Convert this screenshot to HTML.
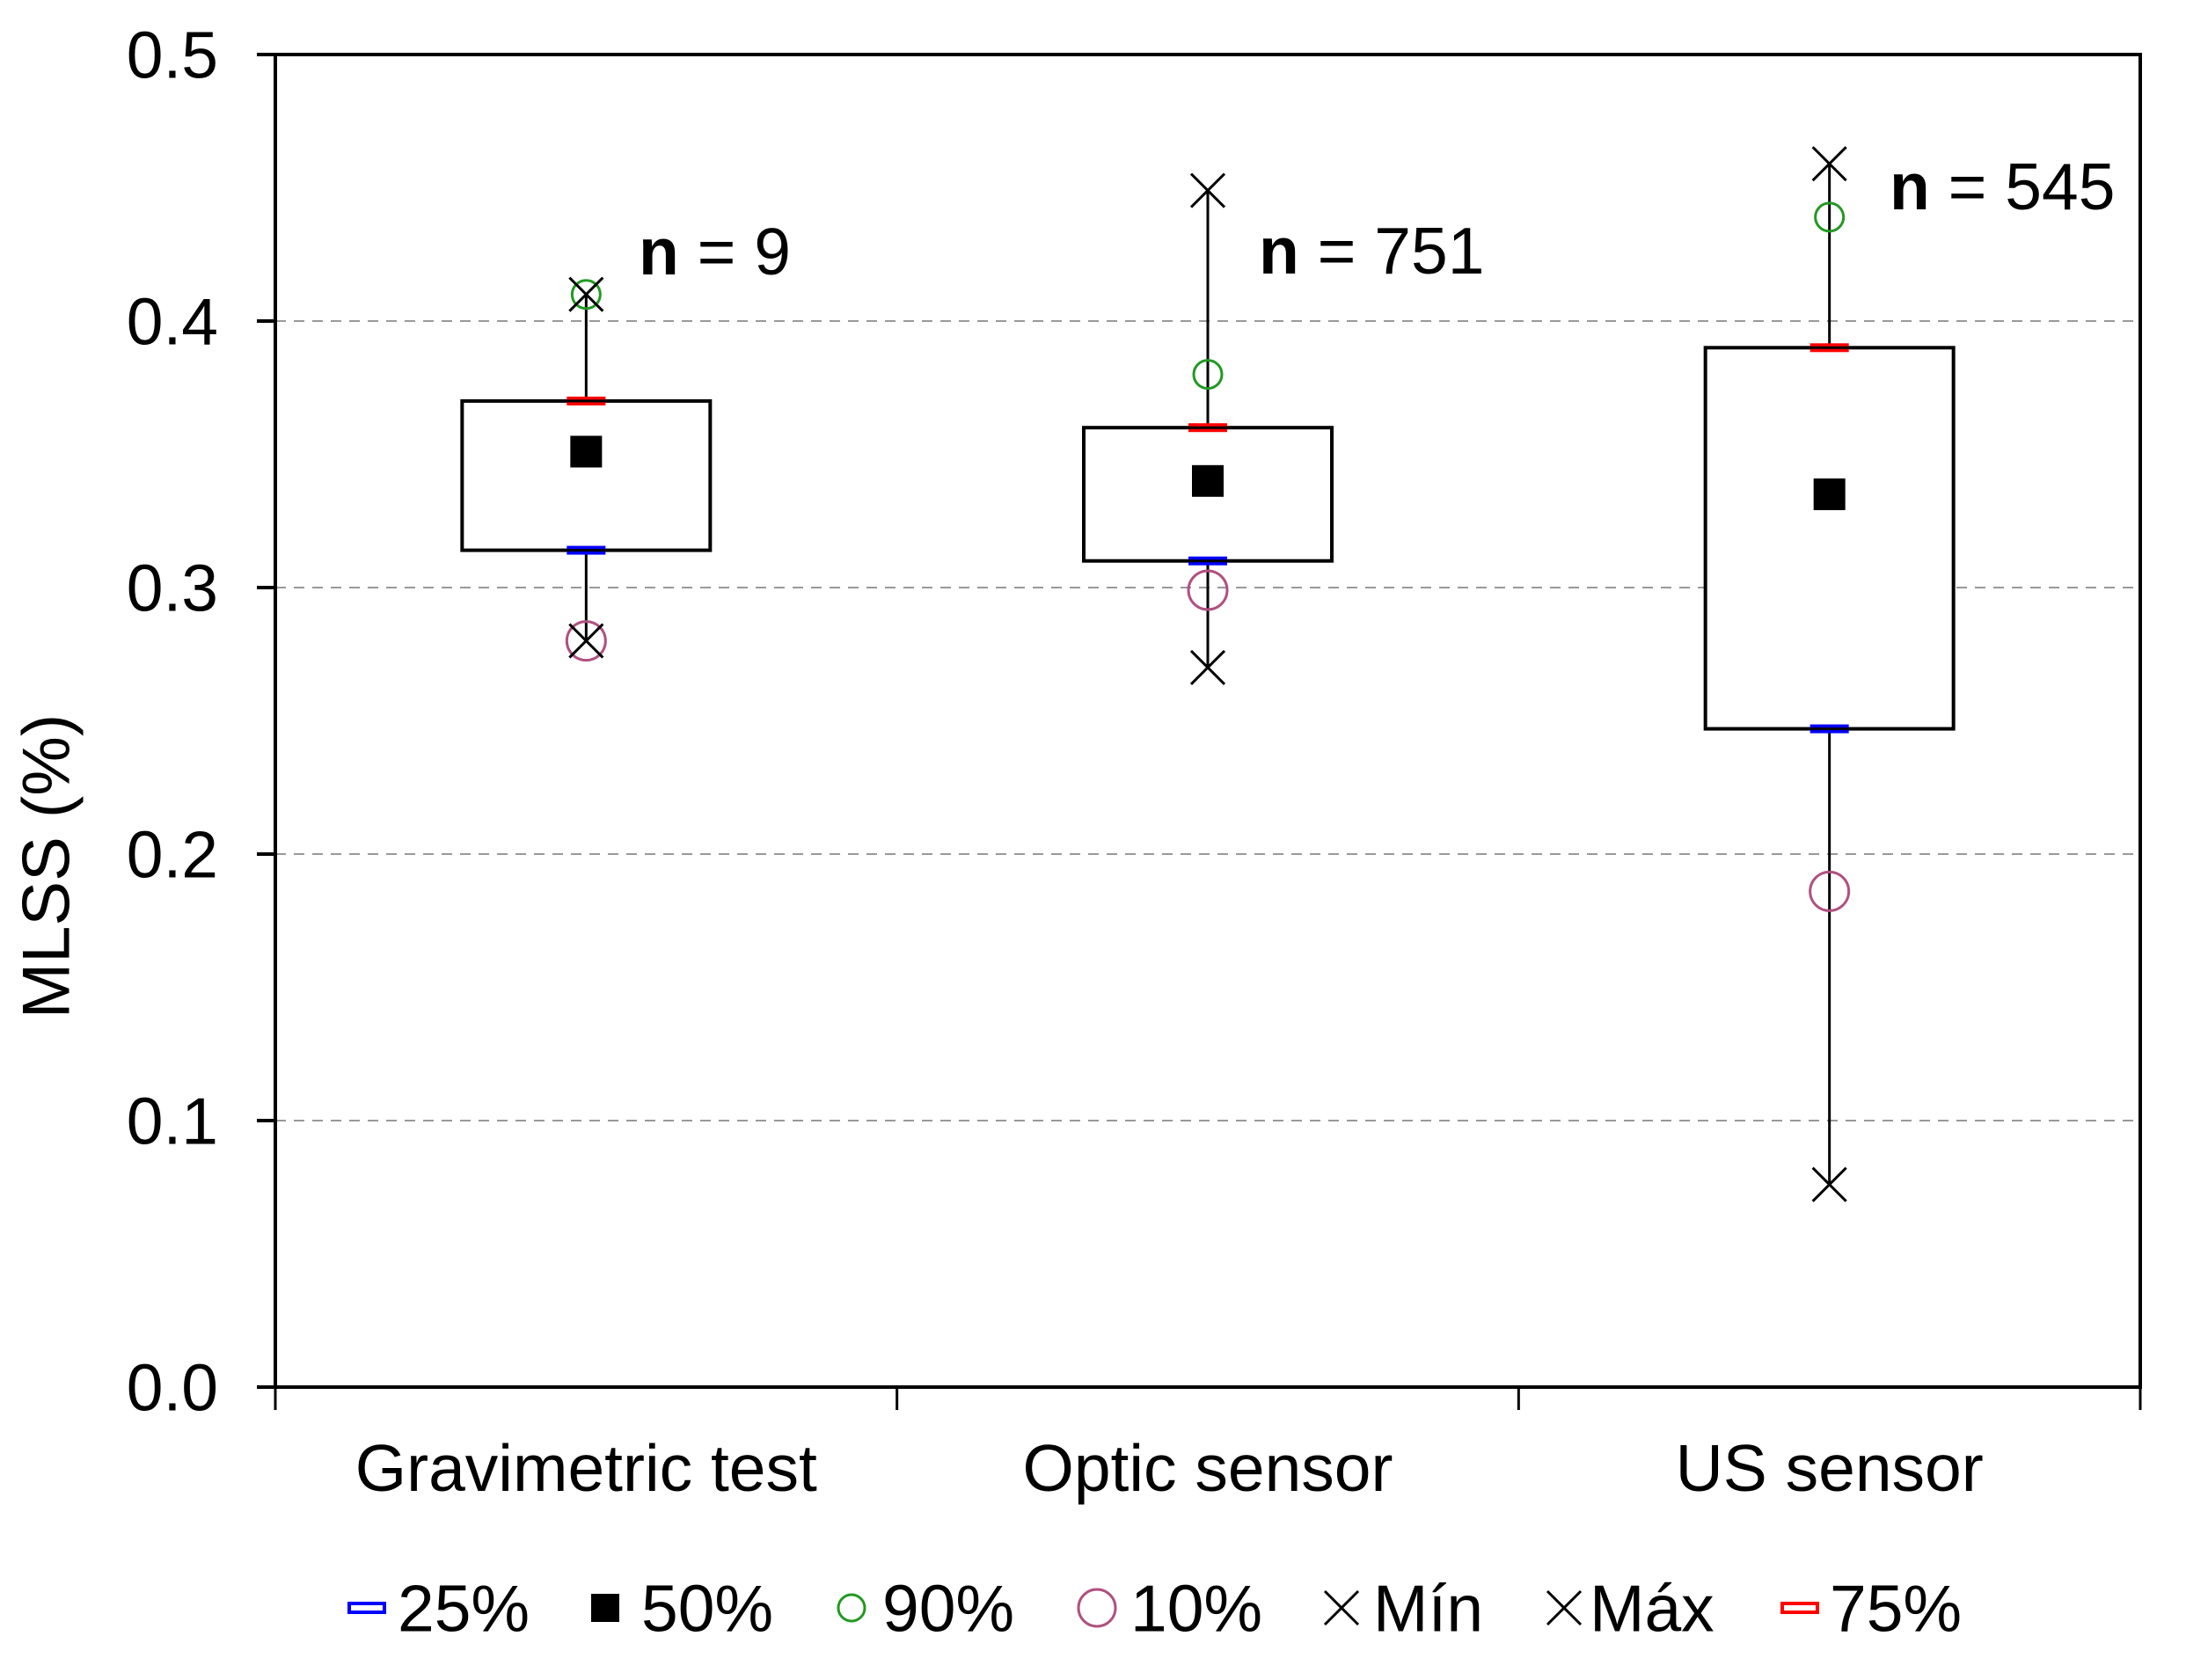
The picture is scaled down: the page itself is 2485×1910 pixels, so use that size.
<!DOCTYPE html>
<html><head><meta charset="utf-8"><style>
html,body{margin:0;padding:0;background:#fff;}
svg{display:block;font-family:"Liberation Sans",Arial,sans-serif;}
</style></head><body>
<svg id="chart" width="2485" height="1910" viewBox="0 0 2485 1910" xmlns="http://www.w3.org/2000/svg">
<g id="grid"></g>
<g id="boxes"></g>
<g id="axes"></g>
<text x="52" y="985" font-size="76" text-anchor="middle" transform="rotate(-90 52 985)" dy="0.35em">MLSS (%)</text>
<g id="legend"></g>
</svg>
<script>
const categories = ["Gravimetric test","Optic sensor","US sensor"];
const nLabels = ["n = 9","n = 751","n = 545"];
const p25 = [0.314,0.310,0.247];
const p50 = [0.351,0.340,0.335];
const p75 = [0.370,0.360,0.390];
const p90 = [0.410,0.380,0.439];
const p10 = [0.280,0.299,0.186];
const vMin = [0.280,0.270,0.076];
const vMax = [0.410,0.449,0.459];
const yTicks = [0,0.1,0.2,0.3,0.4,0.5];
const yTickLabels = ["0.0","0.1","0.2","0.3","0.4","0.5"];

const NS="http://www.w3.org/2000/svg";
const X0=313,X1=2433,Y0=1577,Y1=62;
const FS=75;
const yS=v=>Y0-(v/0.5)*(Y0-Y1);
const bw=(X1-X0)/categories.length;
const xS=i=>X0+bw*(i+0.5);
function mk(parent,tag,attrs){const e=document.createElementNS(NS,tag);for(const k in attrs)e.setAttribute(k,attrs[k]);parent.appendChild(e);return e;}
const grid=document.getElementById('grid'),boxes=document.getElementById('boxes'),axes=document.getElementById('axes'),legend=document.getElementById('legend');

yTicks.forEach((t,i)=>{
  const y=yS(t);
  if(t>0&&t<0.5){const g=mk(grid,'line',{x1:X0,x2:X1,y1:y,y2:y,stroke:'#999','stroke-width':2,'stroke-dasharray':'12 9'});
  
  }
  const tk=mk(axes,'line',{x1:292,x2:X0,y1:y,y2:y,stroke:'#000','stroke-width':4});
  
  
  const tl=mk(axes,'text',{x:248,y:y,'font-size':FS,'text-anchor':'end',dy:'0.35em'});
  tl.textContent=yTickLabels[i];
  
  
});
const frame=mk(axes,'rect',{x:X0,y:Y1,width:X1-X0,height:Y0-Y1,fill:'none',stroke:'#000','stroke-width':4});


for(let i=0;i<=categories.length;i++){
  const x=X0+bw*i;
  const t=mk(axes,'line',{x1:x,x2:x,y1:Y0,y2:1603,stroke:'#000','stroke-width':3});
  
  
}
function xMark(p,cx,cy,s){const g=mk(p,'g',{stroke:'#000','stroke-width':3});
  mk(g,'line',{x1:cx-s,y1:cy-s,x2:cx+s,y2:cy+s});mk(g,'line',{x1:cx-s,y1:cy+s,x2:cx+s,y2:cy-s});return g;}
function pMark(p,cx,cy,col){const g=mk(p,'g',{});
  mk(g,'rect',{x:cx-22,y:cy-5,width:44,height:10,fill:col});
  mk(g,'line',{x1:cx-22,x2:cx+22,y1:cy,y2:cy,stroke:'#000','stroke-width':3});return g;}
categories.forEach((c,i)=>{
  const cx=xS(i);
  const g=mk(boxes,'g',{});
  
  
  mk(g,'line',{x1:cx,x2:cx,y1:yS(p75[i]),y2:yS(vMax[i]),stroke:'#000','stroke-width':3});
  mk(g,'line',{x1:cx,x2:cx,y1:yS(p25[i]),y2:yS(vMin[i]),stroke:'#000','stroke-width':3});
  mk(g,'rect',{x:cx-141,y:yS(p75[i]),width:282,height:yS(p25[i])-yS(p75[i]),fill:'#fff',stroke:'#000','stroke-width':4});
  pMark(g,cx,yS(p75[i]),'#f00');
  pMark(g,cx,yS(p25[i]),'#00f');
  mk(g,'rect',{x:cx-18,y:yS(p50[i])-18,width:36,height:36,fill:'#000'});
  mk(g,'circle',{cx:cx,cy:yS(p90[i]),r:16,fill:'none',stroke:'#229922','stroke-width':3});
  mk(g,'circle',{cx:cx,cy:yS(p10[i]),r:22,fill:'none',stroke:'#b05080','stroke-width':3});
  xMark(g,cx,yS(vMin[i]),19);
  xMark(g,cx,yS(vMax[i]),19);
  const cl=mk(axes,'text',{x:cx,y:1695,'font-size':FS,'text-anchor':'middle'});
  cl.textContent=c;
  
  
});
const nPos=[[726,312],[1431,311],[2148,238]];
nLabels.forEach((t,i)=>{
  const e=mk(boxes,'text',{x:nPos[i][0],y:nPos[i][1],'font-size':FS});
  e.innerHTML='<tspan font-weight="bold">n</tspan> = '+t.slice(4);
  
  
});
// legend
const LY=1828;
function lt(x,s){const e=mk(legend,'text',{x:x,y:LY,'font-size':FS,dy:'0.35em'});e.textContent=s;
  
  }
const l1=mk(legend,'rect',{x:397,y:LY-5,width:40,height:10,fill:'#fff',stroke:'#00f','stroke-width':4});


lt(452,'25%');
const l2=mk(legend,'rect',{x:672,y:LY-16,width:32,height:32,fill:'#000'});


lt(729,'50%');
const l3=mk(legend,'circle',{cx:968,cy:LY,r:15,fill:'none',stroke:'#229922','stroke-width':3});


lt(1003,'90%');
const l4=mk(legend,'circle',{cx:1247,cy:LY,r:21,fill:'none',stroke:'#b05080','stroke-width':3});


lt(1285,'10%');
const l5=xMark(legend,1525,LY,19);


lt(1561,'Mín');
const l6=xMark(legend,1778,LY,19);


lt(1807,'Máx');
const l7=mk(legend,'rect',{x:2026,y:LY-5,width:40,height:10,fill:'#fff',stroke:'#f00','stroke-width':4});


lt(2080,'75%');
</script>
</body></html>
